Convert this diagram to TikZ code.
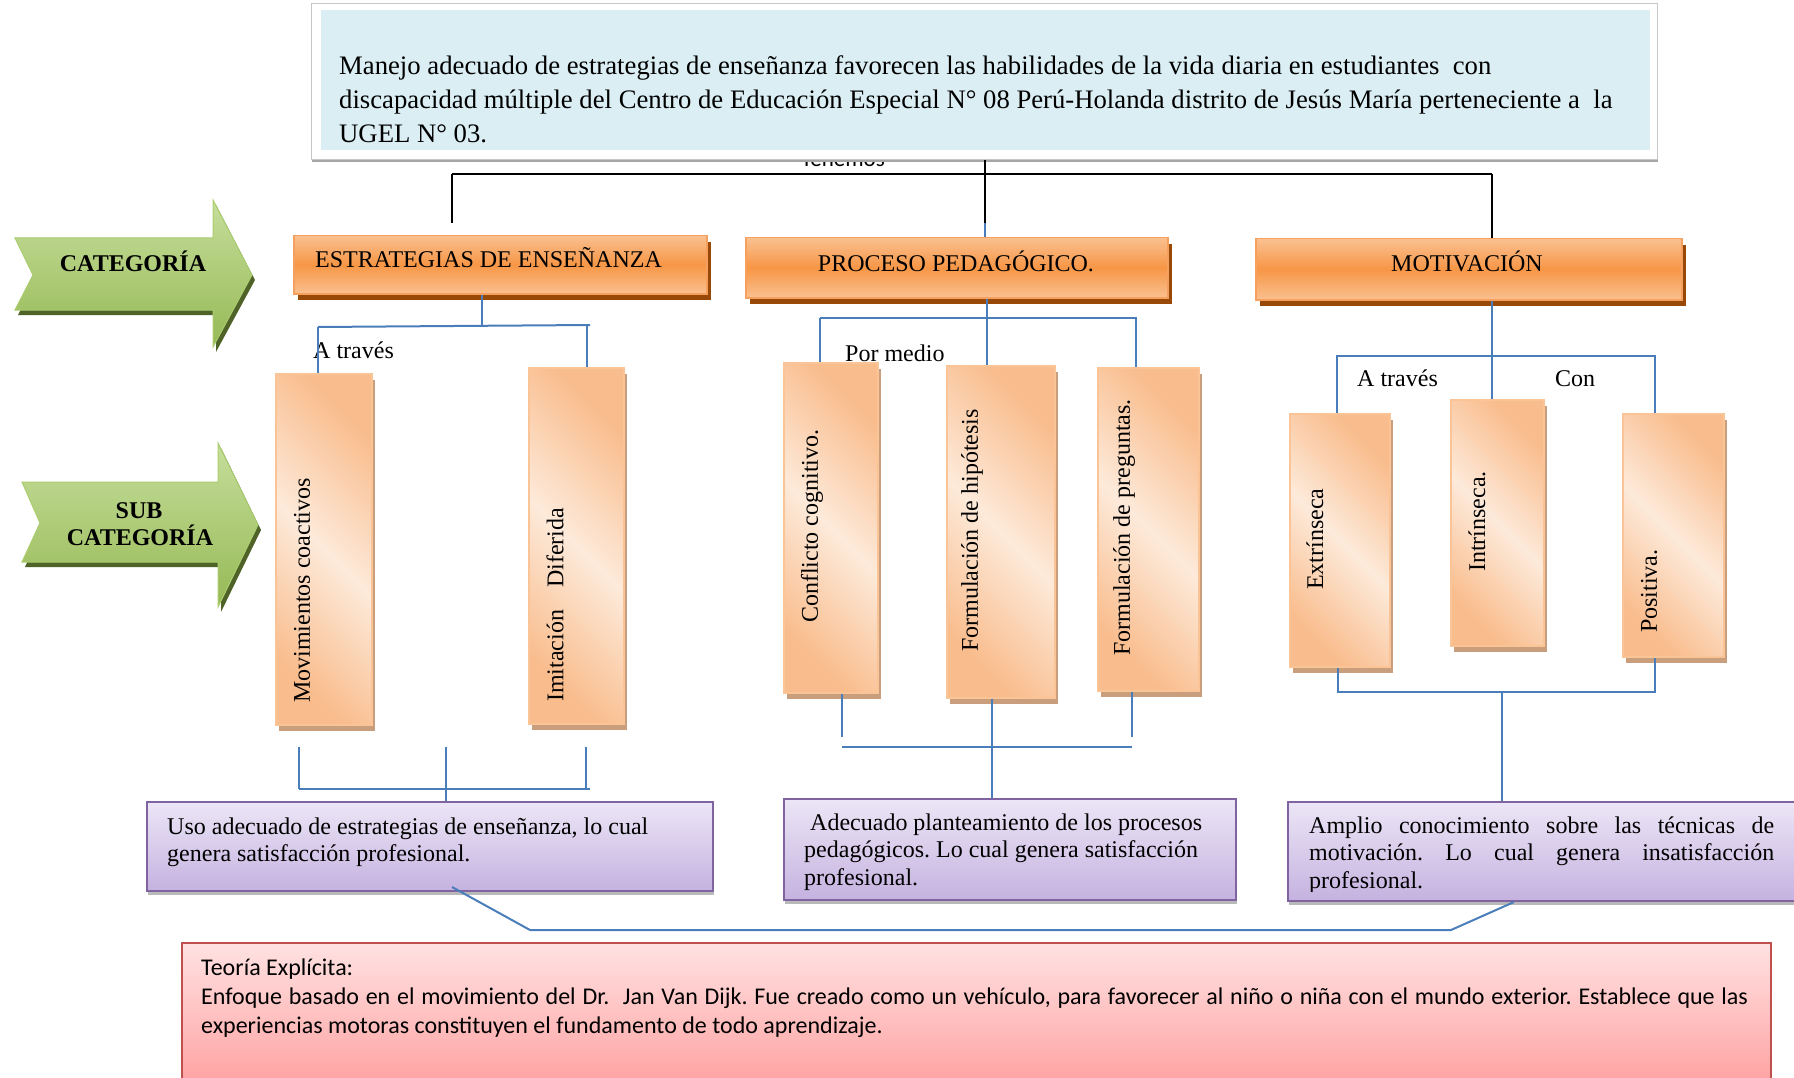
\documentclass[tikz,border=0pt]{standalone}
\usepackage{fontspec}
\setmainfont{Liberation Serif}
\newfontfamily\calibf{Carlito}
\usetikzlibrary{shadows}
\definecolor{gTop}{RGB}{198,222,155}
\definecolor{gBot}{RGB}{150,185,85}
\definecolor{gEdge}{RGB}{170,205,110}
\definecolor{gShadow}{RGB}{79,98,40}
\definecolor{oLight}{RGB}{250,192,144}
\definecolor{oDark}{RGB}{247,150,70}
\definecolor{oEdge}{RGB}{246,160,95}
\definecolor{oShadow}{RGB}{152,72,7}
\definecolor{sLight}{RGB}{253,234,218}
\definecolor{sDark}{RGB}{249,188,140}
\definecolor{sEdge}{RGB}{250,196,150}
\definecolor{sShadow}{RGB}{200,158,125}
\definecolor{pTop}{RGB}{236,230,246}
\definecolor{pBot}{RGB}{197,178,224}
\definecolor{pEdge}{RGB}{128,100,162}
\definecolor{rTop}{RGB}{255,226,226}
\definecolor{rBot}{RGB}{255,158,158}
\definecolor{rEdge}{RGB}{192,80,77}
\definecolor{tBlue}{RGB}{219,238,244}
\definecolor{lBlue}{RGB}{74,126,187}
\newcommand\tmsz{\fontsize{24}{27.5}\selectfont}
\hyphenpenalty=10000
\exhyphenpenalty=10000
\frenchspacing
\begin{document}
\begin{tikzpicture}[x=1pt,y=-1pt,
  catbox/.style={draw=oEdge, line width=1.5pt, top color=oLight, bottom color=oLight, middle color=oDark,
    drop shadow={shadow xshift=4pt, shadow yshift=-6pt, fill=oShadow, opacity=1},
    anchor=north west, inner sep=0pt},
  subbox/.style={draw=sEdge, line width=1.5pt, left color=sDark, right color=sDark, middle color=sLight, shading angle=135,
    drop shadow={shadow xshift=3pt, shadow yshift=-6pt, fill=sShadow, opacity=1},
    anchor=north west, inner sep=0pt},
  resbox/.style={draw=pEdge, line width=1.5pt, top color=pTop, bottom color=pBot,
    drop shadow={shadow xshift=1pt, shadow yshift=-4pt, fill=gray!55, opacity=1},
    anchor=north west, inner sep=0pt},
  lbl/.style={font=\tmsz, inner sep=0pt},
  vlbl/.style={font=\tmsz, inner sep=0pt, rotate=90, anchor=west},
  catlbl/.style={font=\bfseries\tmsz, inner sep=0pt, anchor=base},
  bl/.style={draw=lBlue, line width=2pt},
  bk/.style={draw=black, line width=2.5pt}]
\useasboundingbox (0,0) rectangle (1794,1078);
\clip (0,0) rectangle (1794,1078);
\fill[white] (0,0) rectangle (1794,1078);

% green arrows
\fill[gShadow, shift={(3,5)}] (15,238) -- (213,238) -- (213,200) -- (252,275) -- (213,347) -- (213,310) -- (15,310) -- (33,275) -- cycle;
\shade[top color=gTop, bottom color=gBot, draw=gEdge, line width=1pt] (15,238) -- (213,238) -- (213,200) -- (252,275) -- (213,347) -- (213,310) -- (15,310) -- (33,275) -- cycle;
\fill[gShadow, shift={(3,5)}] (22,482) -- (218,482) -- (218,443) -- (258,525) -- (218,607) -- (218,562) -- (22,562) -- (40,523) -- cycle;
\shade[top color=gTop, bottom color=gBot, draw=gEdge, line width=1pt] (22,482) -- (218,482) -- (218,443) -- (258,525) -- (218,607) -- (218,562) -- (22,562) -- (40,523) -- cycle;
\node[catlbl] (tcat) at (133,272) {CATEGORÍA};
\node[catlbl] (tsub1) at (139,518) {SUB};
\node[catlbl] (tsub2) at (140,545) {CATEGORÍA};

% title
\node[anchor=base west, inner sep=0pt, font=\calibf\fontsize{23}{27}\selectfont] (ten) at (801,167) {Tenemos};
\node[draw=gray!45, line width=1pt, fill=white, anchor=north west, minimum width=1346pt, minimum height=156pt, inner sep=0pt,
  drop shadow={shadow xshift=0pt, shadow yshift=-3pt, fill=gray!70, opacity=1}] (tbox) at (311,3) {};
\node[fill=tBlue, anchor=north west, minimum width=1329pt, minimum height=140pt, inner sep=0pt] (tblue) at (321,10) {};
\begin{scope}
\clip (321,10) rectangle (1650,143);
\node[anchor=base west, inner sep=0pt] (ttl) at (339,74.5) {\parbox[t]{1300pt}{\raggedright\fontsize{26.7}{34}\selectfont
Manejo adecuado de estrategias de enseñanza favorecen las habilidades de la vida diaria en estudiantes\ \ con\\
discapacidad múltiple del Centro de Educación Especial N° 08 Perú-Holanda distrito de Jesús María perteneciente a\ \ la\\
UGEL N° 03.}};
\end{scope}

% category boxes
\node[catbox, minimum width=413pt, minimum height=58pt] (est) at (293,235) {};
\node[catbox, minimum width=422pt, minimum height=60pt] (proc) at (745,237) {};
\node[catbox, minimum width=426pt, minimum height=61pt] (mot) at (1255,238) {};
\node[lbl, anchor=base west] (test) at (315,268) {ESTRATEGIAS DE ENSEÑANZA};
\node[lbl, anchor=base] (tproc) at (956,271) {PROCESO PEDAGÓGICO.};
\node[lbl, anchor=base] (tmot) at (1467,271) {MOTIVACIÓN};

% sub boxes
\node[subbox, minimum width=96pt, minimum height=351pt] (mov) at (275,373) {};
\node[subbox, minimum width=95pt, minimum height=356pt] (imi) at (528,367) {};
\node[subbox, minimum width=94pt, minimum height=330pt] (con) at (783,362) {};
\node[subbox, minimum width=108pt, minimum height=332pt] (hip) at (946,365) {};
\node[subbox, minimum width=101pt, minimum height=323pt] (pre) at (1097,367) {};
\node[subbox, minimum width=100pt, minimum height=253pt] (ext) at (1289,413) {};
\node[subbox, minimum width=93pt, minimum height=246pt] (int) at (1450,399) {};
\node[subbox, minimum width=101pt, minimum height=243pt] (pos) at (1622,413) {};
\node[vlbl] (tmov) at (302,703) {Movimientos coactivos};
\node[vlbl] (timi) at (555,702) {Imitación\hspace*{22pt}Diferida};
\node[vlbl] (tcon) at (812,623) {Conflicto cognitivo.};
\node[vlbl] (thip) at (972,652) {Formulación de hipótesis};
\node[vlbl] (tpre) at (1124,656) {Formulación de preguntas.};
\node[vlbl] (text) at (1315,590) {Extrínseca};
\node[vlbl] (tint) at (1477,572) {Intrínseca.};
\node[vlbl] (tpos) at (1649,633) {Positiva.};

% result boxes
\node[resbox, minimum width=566pt, minimum height=89pt] (p1) at (146,801) {};
\node[resbox, minimum width=452pt, minimum height=101pt] (p2) at (783,798) {};
\node[resbox, minimum width=520pt, minimum height=99pt] (p3) at (1287,801) {};
\node[anchor=base west, inner sep=0pt] (tp1) at (167,834) {\parbox[t]{540pt}{\raggedright\tmsz Uso adecuado de estrategias de enseñanza, lo cual\\ genera satisfacción profesional.}};
\node[anchor=base west, inner sep=0pt] (tp2) at (804,830) {\parbox[t]{430pt}{\raggedright\tmsz\hspace*{6pt}Adecuado planteamiento de los procesos\\ pedagógicos. Lo cual genera satisfacción\\ profesional.}};
\begin{scope}
\clip (1287,801) rectangle (1794,891);
\node[anchor=base west, inner sep=0pt] (tp3) at (1309,833) {\parbox[t]{465pt}{\tmsz Amplio conocimiento sobre las técnicas de\linebreak motivación. Lo cual genera insatisfacción\linebreak profesional.}};
\end{scope}

% red box
\node[draw=rEdge, line width=1.5pt, top color=rTop, bottom color=rBot, anchor=north west, minimum width=1589pt, minimum height=150pt, inner sep=0pt] (red) at (181,942) {};
\node[anchor=base west, inner sep=0pt] (tred) at (201,975) {\parbox[t]{1547pt}{\calibf\fontsize{24}{29}\selectfont Teoría Explícita:\\ Enfoque basado en el movimiento del Dr.\ \ Jan Van Dijk. Fue creado como un vehículo, para favorecer al niño o niña con el mundo exterior. Establece que las\linebreak experiencias motoras constituyen el fundamento de todo aprendizaje.}};

% connector labels
\node[lbl, anchor=base west] (la1) at (313,358) {A través};
\node[lbl, anchor=base west] (lpm) at (845,361) {Por medio};
\node[lbl, anchor=base west] (la2) at (1357,386) {A través};
\node[lbl, anchor=base west] (lcon) at (1555,386) {Con};

% black connectors
\coordinate (bL) at (452,174); \coordinate (bR) at (1492,174); \coordinate (bC) at (985,174);
\coordinate (bCe) at (985,223); \coordinate (bLe) at (452,223);
\draw[bk] (bL) -- (bR);
\draw[bk] (bC |- tbox.south) -- (bCe);
\draw[bl] (bCe) -- (bCe |- proc.north);
\draw[bk] (bL) -- (bLe);
\draw[bk] (bR) -- (bR |- mot.north);

% estrategias connectors
\coordinate (e1) at (482,326); \coordinate (e2) at (318,327); \coordinate (e3) at (590,325); \coordinate (e4) at (587,325);
\draw[bl] (e1 |- est.south) -- (e1);
\draw[bl] (e2) -- (e3);
\draw[bl] (e2) -- (e2 |- mov.north);
\draw[bl] (e4) -- (e4 |- imi.north);
\coordinate (f1) at (299,747); \coordinate (f2) at (446,747); \coordinate (f3) at (586,747);
\coordinate (g1) at (299,789); \coordinate (g3) at (590,789);
\draw[bl] (f1) -- (f1 |- g1);
\draw[bl] (f3) -- (f3 |- g3);
\draw[bl] (f2) -- (f2 |- p1.north);
\draw[bl] (g1) -- (g3);

% proceso connectors
\coordinate (h1) at (987,318); \coordinate (h2) at (820,318); \coordinate (h3) at (1137,318); \coordinate (h4) at (1136,318);
\draw[bl] (h1 |- proc.south) -- (h1 |- hip.north);
\draw[bl] (h2) -- (h3);
\draw[bl] (h2) -- (h2 |- con.north);
\draw[bl] (h4) -- (h4 |- pre.north);
\coordinate (k1) at (842,737); \coordinate (k3) at (1132,737); \coordinate (k2) at (992,747);
\coordinate (m1) at (842,747); \coordinate (m3) at (1132,747);
\draw[bl] (k1 |- con.south) -- (k1);
\draw[bl] (k3 |- pre.south) -- (k3);
\draw[bl] (m1) -- (m3);
\draw[bl] (k2 |- hip.south) -- (k2 |- p2.north);

% motivacion connectors
\coordinate (n1) at (1492,356); \coordinate (n2) at (1337,356); \coordinate (n3) at (1655,356);
\draw[bl] (n1 |- mot.south) -- (n1 |- int.north);
\draw[bl] (n2 |- ext.north) -- (n2) -- (n3) -- (n3 |- pos.north);
\coordinate (q1) at (1338,692); \coordinate (q2) at (1502,692); \coordinate (q3) at (1655,692);
\draw[bl] (q1 |- ext.south) -- (q1) -- (q3) -- (q3 |- pos.south);
\draw[bl] (q2) -- (q2 |- p3.north);

% bottom connector
\coordinate (r1) at (452,887); \coordinate (r2) at (530,930); \coordinate (r3) at (1451,930); \coordinate (r4) at (1514,902);
\draw[bl] (r1) -- (r2) -- (r3) -- (r4);
\end{tikzpicture}
\end{document}
